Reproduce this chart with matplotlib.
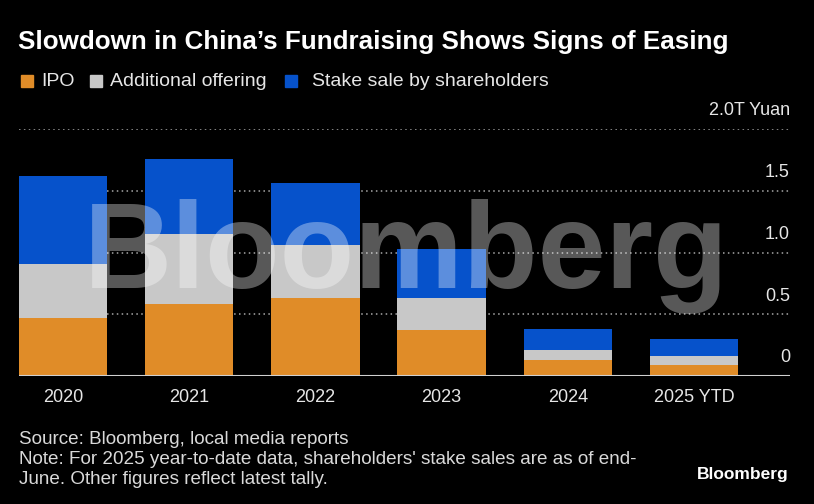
import numpy as np
import matplotlib.pyplot as plt

# values (trillion yuan)
years = ['2020', '2021', '2022', '2023', '2024', '2025 YTD']
ipo = [0.47, 0.58, 0.63, 0.37, 0.13, 0.09]
additional = [0.44, 0.57, 0.43, 0.26, 0.08, 0.07]
stake_sale = [0.71, 0.61, 0.50, 0.40, 0.17, 0.14]
y_ticks = [0, 0.5, 1.0, 1.5, 2.0]
y_tick_labels = ['0', '0.5', '1.0', '1.5', '2.0T Yuan']

ORANGE = '#E08C28'
GREY = '#C8C8C8'
BLUE = '#0652CB'
FONT = ['Liberation Sans', 'DejaVu Sans']

plt.rcParams['font.family'] = FONT

fig = plt.figure(figsize=(8.14, 5.04), dpi=100, facecolor='black')
ax = fig.add_axes([18.7 / 814, 1 - 376 / 504, (790 - 18.7) / 814, (376 - 129) / 504])
ax.set_facecolor('black')

x = np.arange(len(years))
w = 0.70
ipo_a = np.array(ipo)
add_a = np.array(additional)
stake_a = np.array(stake_sale)
ax.bar(x, ipo_a, w, color=ORANGE, zorder=2)
ax.bar(x, add_a, w, bottom=ipo_a, color=GREY, zorder=2)
ax.bar(x, stake_a, w, bottom=ipo_a + add_a, color=BLUE, zorder=2)

ax.set_xlim(-w / 2, 5 + w / 2 + 0.41)
ax.set_ylim(0, 2.0)

# dotted gridlines, solid baseline
for v in y_ticks[1:]:
    ax.axhline(v, color='#a8a8a8', lw=1.1, ls=(0, (1, 2.2)), zorder=1)
ax.axhline(0, color='#d0d0d0', lw=1.5, zorder=3)

# y labels sit above gridlines at the right edge
for v, lab in zip(y_ticks, y_tick_labels):
    ax.annotate(lab, xy=(1.0, v), xycoords=('axes fraction', 'data'),
                xytext=(0, 13), textcoords='offset points',
                ha='right', va='center', color='#e6e6e6', fontsize=13,
                annotation_clip=False)

ax.set_xticks(x)
ax.set_xticklabels(years, color='#e6e6e6', fontsize=13)
ax.tick_params(axis='x', length=0, pad=9)
ax.set_yticks([])
for s in ax.spines.values():
    s.set_visible(False)

# watermark
fig.text(406 / 814, 1 - 288 / 504, 'Bloomberg', ha='center', va='baseline',
         fontsize=88, fontweight='bold', color='white', alpha=0.35, zorder=5)

# title and legend
fig.text(18 / 814, 1 - 42 / 504, 'Slowdown in China\u2019s Fundraising Shows Signs of Easing',
         ha='left', va='center', color='white', fontsize=18.7, fontweight='bold')

legend_items = [('IPO', ORANGE, 21), ('Additional offering', GREY, 90),
                ('Stake sale by shareholders', BLUE, 285)]
for lab, col, px in legend_items:
    fig.patches.append(plt.Rectangle((px / 814, 1 - 87 / 504), 12 / 814, 12 / 504,
                                     transform=fig.transFigure, color=col, figure=fig))
    tx = px + 20 if lab != 'Stake sale by shareholders' else px + 27
    fig.text(tx / 814, 1 - 81 / 504, lab, ha='left', va='center',
             color='#e6e6e6', fontsize=14)

# footer
fig.text(19 / 814, 1 - 439 / 504, 'Source: Bloomberg, local media reports',
         ha='left', va='center', color='#d9d9d9', fontsize=13.6)
fig.text(19 / 814, 1 - 460 / 504,
         "Note: For 2025 year-to-date data, shareholders' stake sales are as of end-",
         ha='left', va='center', color='#d9d9d9', fontsize=13.6)
fig.text(19 / 814, 1 - 480 / 504, 'June. Other figures reflect latest tally.',
         ha='left', va='center', color='#d9d9d9', fontsize=13.6)
fig.text(789 / 814, 1 - 475 / 504, 'Bloomberg', ha='right', va='center',
         color='white', fontsize=12.5, fontweight='bold')

fig.savefig('out.png', dpi=100, facecolor='black')
